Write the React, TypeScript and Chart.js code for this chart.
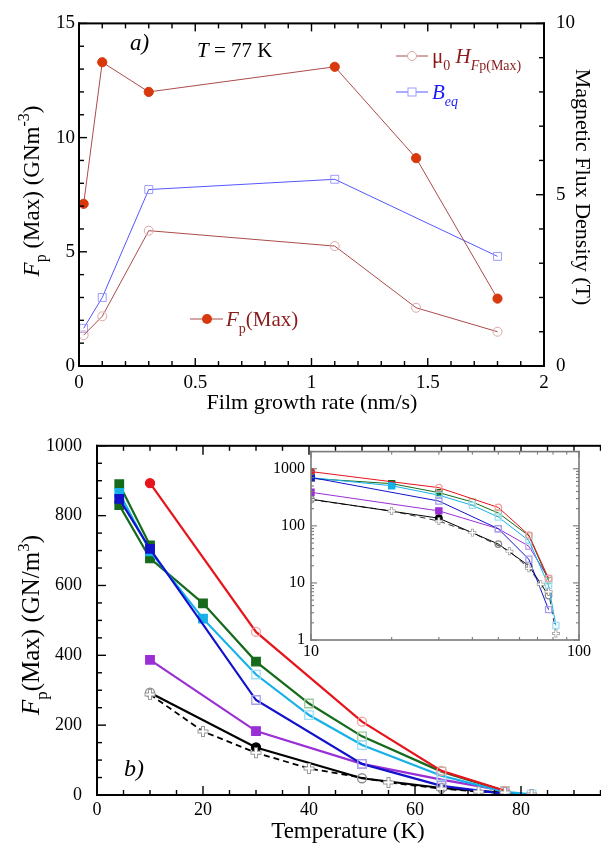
import React, { useEffect, useRef } from 'react';
import { Chart, registerables } from 'chart.js';
import type { Plugin } from 'chart.js';

Chart.register(...registerables);

const SERIF = '"Liberation Serif", "Times New Roman", Times, serif';
Chart.defaults.font.family = SERIF;
Chart.defaults.color = '#000';

// ---- (a) pinning force and fields vs film growth rate, T = 77 K ----
const growthRate = [0.02, 0.1, 0.3, 1.1, 1.45, 1.8];
const fpMax77 = [7.1, 13.3, 12.0, 13.1, 9.1, 2.95];
const mu0HFp = [0.9, 1.45, 3.95, 3.5, 1.7, 1.0];
const growthRateBeq = [0.02, 0.1, 0.3, 1.1, 1.8];
const bEq = [1.1, 2.0, 5.15, 5.45, 3.2];

// ---- (b) Fp(Max) vs temperature ----
const tempRed = [10, 30, 50, 65, 77];
const fpRed = [893, 467, 210, 69, 12];
const tempGreen = [4.2, 10, 20, 30, 40, 50, 65, 77];
const fpGreen = [830, 678, 549, 382, 262, 168, 67, 11];
const tempGreen2 = [4.2, 10];
const fpGreen2 = [890, 715];
const tempCyan = [4.2, 10, 20, 30, 40, 50, 65, 77, 82];
const fpCyan = [865, 698, 505, 345, 229, 143, 55, 9, 1.8];
const tempBlue = [4.2, 10, 30, 50, 65, 77];
const fpBlue = [848, 705, 272, 89, 26, 3.4];
const tempPurple = [10, 30, 50, 65, 77];
const fpPurple = [387, 183, 89, 44, 12];
const tempBlack = [10, 30, 50, 65, 77];
const fpBlack = [293, 136, 48, 20, 6];
const tempDash = [10, 20, 30, 40, 55, 65, 72, 77, 82];
const fpDash = [288, 182, 121, 76, 36, 18, 9.5, 7, 1.3];

// labelled (major) tick values
const rateTicks = [0, 0.5, 1, 1.5, 2];
const fpTicksA = [0, 5, 10, 15];
const fluxTicks = [0, 5, 10];
const tempTicks = [0, 20, 40, 60, 80];
const fpTicksB = [0, 200, 400, 600, 800, 1000];
const insetTempTicks = [10, 100];
const insetFpTicks = [1, 10, 100, 1000];

type Edge = 'left' | 'right' | 'top' | 'bottom';
interface TickSet { id: string; edges: Edge[]; major: number[]; all: number[] }
interface FrameStyle {
  color: string; width: number; tickWidth: number;
  majorLen: number; minorLen: number; sides: Edge[]; fill?: string;
}

const near = (list: number[], v: number) =>
  list.some((m) => Math.abs(m - v) < 1e-6 * Math.max(1, Math.abs(m)));

const fmt = (v: number) => String(Math.round(v * 1000) / 1000);

// evenly spaced tick positions for a linear axis
function linSteps(min: number, max: number, step: number) {
  const out: number[] = [];
  const n = Math.round((max - min) / step);
  for (let i = 0; i <= n; i++) out.push(Math.round((min + i * step) * 1e6) / 1e6);
  return out;
}

// 1..9 x 10^k tick positions for a log axis
function logSteps(min: number, max: number) {
  const out: number[] = [];
  for (let e = Math.floor(Math.log10(min)); e <= Math.ceil(Math.log10(max)); e++) {
    for (let m = 1; m <= 9; m++) {
      const v = m * Math.pow(10, e);
      if (v >= min - 1e-9 && v <= max + 1e-9) out.push(v);
    }
  }
  return out;
}

// pixel of a value on a scale, falling back to the scale's own range
function scalePixel(sc: any, v: number) {
  let p = Number(sc.getPixelForValue(v));
  if (isFinite(p)) return p;
  const isLog = sc.type === 'logarithmic';
  const f = (x: number) => (isLog ? Math.log10(x) : x);
  const t = (f(v) - f(sc.min)) / (f(sc.max) - f(sc.min));
  p = sc.isHorizontal() ? sc.left + t * (sc.right - sc.left) : sc.bottom - t * (sc.bottom - sc.top);
  return p;
}

// frame around the plot area plus inward-pointing major/minor tick marks
function framePlugin(id: string, sets: TickSet[], st: FrameStyle): Plugin {
  return {
    id,
    beforeDatasetsDraw(chart) {
      if (!st.fill) return;
      const a = chart.chartArea;
      const ctx = chart.ctx;
      ctx.save();
      ctx.fillStyle = st.fill;
      ctx.fillRect(a.left, a.top, a.right - a.left, a.bottom - a.top);
      ctx.restore();
    },
    afterDraw(chart) {
      const ctx = chart.ctx;
      const a = chart.chartArea;
      const w = st.tickWidth;
      ctx.save();
      ctx.fillStyle = st.color;
      for (const s of sets) {
        const sc: any = chart.scales[s.id];
        if (!sc) continue;
        for (const value of s.all) {
          const len = near(s.major, value) ? st.majorLen : st.minorLen;
          const p = scalePixel(sc, value);
          if (!isFinite(p)) continue;
          for (const e of s.edges) {
            if (e === 'left') ctx.fillRect(a.left, p - w / 2, len, w);
            else if (e === 'right') ctx.fillRect(a.right - len, p - w / 2, len, w);
            else if (e === 'bottom') ctx.fillRect(p - w / 2, a.bottom - len, w, len);
            else ctx.fillRect(p - w / 2, a.top, w, len);
          }
        }
      }
      const h = st.width / 2;
      if (st.sides.includes('left')) ctx.fillRect(a.left - h, a.top - h, st.width, a.bottom - a.top + st.width);
      if (st.sides.includes('right')) ctx.fillRect(a.right - h, a.top - h, st.width, a.bottom - a.top + st.width);
      if (st.sides.includes('top')) ctx.fillRect(a.left - h, a.top - h, a.right - a.left + st.width, st.width);
      if (st.sides.includes('bottom')) ctx.fillRect(a.left - h, a.bottom - h, a.right - a.left + st.width, st.width);
      ctx.restore();
    },
  };
}

// ---- rich text (italic, sub- and superscripts) ----
interface Seg { t: string; it?: boolean; sub?: boolean; sup?: boolean }

function segFont(s: Seg, size: number) {
  const sz = s.sub || s.sup ? Math.round(size * 0.68) : size;
  return `${s.it ? 'italic ' : ''}${sz}px ${SERIF}`;
}

function richWidth(ctx: CanvasRenderingContext2D, segs: Seg[], size: number) {
  let w = 0;
  for (const s of segs) { ctx.font = segFont(s, size); w += ctx.measureText(s.t).width; }
  return w;
}

function drawRich(ctx: CanvasRenderingContext2D, segs: Seg[], x: number, y: number,
  size: number, color: string, align: 'left' | 'center' = 'left') {
  ctx.save();
  ctx.fillStyle = color;
  ctx.textAlign = 'left';
  ctx.textBaseline = 'alphabetic';
  let cx = align === 'center' ? x - richWidth(ctx, segs, size) / 2 : x;
  for (const s of segs) {
    ctx.font = segFont(s, size);
    const dy = s.sub ? size * 0.32 : s.sup ? -size * 0.42 : 0;
    ctx.fillText(s.t, cx, y + dy);
    cx += ctx.measureText(s.t).width;
  }
  ctx.restore();
}

function drawRichRotated(ctx: CanvasRenderingContext2D, segs: Seg[], cx: number, cy: number,
  size: number, color: string, angle: number) {
  ctx.save();
  ctx.translate(cx, cy);
  ctx.rotate(angle);
  drawRich(ctx, segs, 0, size * 0.33, size, color, 'center');
  ctx.restore();
}

function textPlugin(id: string, draw: (ctx: CanvasRenderingContext2D) => void): Plugin {
  return { id, afterDraw(chart) { draw(chart.ctx); } };
}

const pts = (xs: number[], ys: number[]) => xs.map((x, i) => ({ x, y: ys[i] }));

// ---- panel (a) ----
const A_LINE = '#ac4b4b';
const A_DOT = '#d8390c';
const A_PALE = '#dca6a6';
const A_BLUE = '#5656ff';
const A_BLUE_PALE = '#9c9cff';
const A_TEXT_RED = '#8b1a1a';

function axisOpts(min: number, max: number, step: number, labels: number[], pos: string,
  size: number, pad: number, fit: (s: any) => void) {
  return {
    type: 'linear' as const, min, max, position: pos,
    grid: { display: false, drawTicks: false },
    border: { display: false },
    ticks: {
      stepSize: step, autoSkip: false, maxRotation: 0, padding: pad, color: '#000',
      font: { family: SERIF, size },
      callback: (v: any) => (near(labels, Number(v)) ? fmt(Number(v)) : ''),
    },
    afterFit: fit,
  };
}

function makePanelA(canvas: HTMLCanvasElement) {
  return new Chart(canvas, {
    type: 'scatter',
    data: {
      datasets: [
        {
          label: 'Fp(Max)', data: pts(growthRate, fpMax77), yAxisID: 'y', showLine: true,
          borderColor: A_LINE, borderWidth: 1, pointStyle: 'circle', pointRadius: 4.6,
          pointBackgroundColor: A_DOT, pointBorderColor: A_DOT, pointBorderWidth: 1, order: 0,
        },
        {
          label: 'mu0H', data: pts(growthRate, mu0HFp), yAxisID: 'y1', showLine: true,
          borderColor: A_LINE, borderWidth: 1, pointStyle: 'circle', pointRadius: 4.5,
          pointBackgroundColor: 'rgba(255,255,255,0)', pointBorderColor: A_PALE, pointBorderWidth: 1, order: 1,
        },
        {
          label: 'Beq', data: pts(growthRateBeq, bEq), yAxisID: 'y1', showLine: true,
          borderColor: A_BLUE, borderWidth: 1, pointStyle: 'rect', pointRadius: 5.6,
          pointBackgroundColor: 'rgba(255,255,255,0)', pointBorderColor: A_BLUE_PALE, pointBorderWidth: 1, order: 2,
        },
      ],
    } as any,
    options: {
      animation: false, responsive: false, devicePixelRatio: 1,
      layout: { padding: { top: 17, left: 0, right: 0, bottom: 0 } },
      plugins: { legend: { display: false }, tooltip: { enabled: false } },
      scales: {
        x: axisOpts(0, 2, 0.1, rateTicks, 'bottom', 19, 6, (s) => { s.height = 54; }),
        y: axisOpts(0, 15, 1, fpTicksA, 'left', 19, 4, (s) => { s.width = 79; }),
        y1: axisOpts(0, 10, 1, fluxTicks, 'right', 19, 12, (s) => { s.width = 57; }),
      },
    } as any,
    plugins: [
      framePlugin('frameA', [
        { id: 'x', edges: ['bottom', 'top'], major: rateTicks, all: linSteps(0, 2, 0.1) },
        { id: 'y', edges: ['left'], major: fpTicksA, all: linSteps(0, 15, 1) },
        { id: 'y1', edges: ['right'], major: fluxTicks, all: linSteps(0, 10, 1) },
      ], { color: '#000', width: 2, tickWidth: 1.4, majorLen: 8, minorLen: 5, sides: ['left', 'right', 'top', 'bottom'] }),
      textPlugin('textA', (ctx) => {
        drawRich(ctx, [{ t: 'a)', it: true }], 130, 50, 23, '#000');
        drawRich(ctx, [{ t: 'T', it: true }, { t: ' = 77 K' }], 197, 57, 21, '#000');
        drawRichRotated(ctx, [
          { t: 'F', it: true }, { t: 'p', sub: true }, { t: ' (Max) (GNm' }, { t: '-3', sup: true }, { t: ')' },
        ], 31, 191, 23, '#000', -Math.PI / 2);
        drawRichRotated(ctx, [{ t: 'Magnetic Flux Density (T)' }], 583, 187, 22, '#000', Math.PI / 2);
        drawRich(ctx, [{ t: 'Film growth rate (nm/s)' }], 312, 409, 22, '#000', 'center');

        // legend entries
        ctx.save();
        ctx.lineWidth = 1;
        ctx.strokeStyle = A_LINE;
        ctx.beginPath(); ctx.moveTo(396, 56); ctx.lineTo(428, 56); ctx.stroke();
        ctx.strokeStyle = A_PALE;
        ctx.fillStyle = '#fff';
        ctx.beginPath(); ctx.arc(412, 56, 4.5, 0, Math.PI * 2); ctx.fill(); ctx.stroke();
        ctx.strokeStyle = A_BLUE;
        ctx.beginPath(); ctx.moveTo(396, 92); ctx.lineTo(428, 92); ctx.stroke();
        ctx.strokeStyle = A_BLUE_PALE;
        ctx.fillRect(408, 88, 8, 8); ctx.strokeRect(408, 88, 8, 8);
        ctx.strokeStyle = A_LINE;
        ctx.beginPath(); ctx.moveTo(190, 319); ctx.lineTo(223, 319); ctx.stroke();
        ctx.fillStyle = A_DOT;
        ctx.beginPath(); ctx.arc(207, 319, 5, 0, Math.PI * 2); ctx.fill();
        ctx.restore();
        drawRich(ctx, [
          { t: 'μ' }, { t: '0', sub: true }, { t: ' ' }, { t: 'H', it: true },
          { t: 'F', it: true, sub: true }, { t: 'p(Max)', sub: true },
        ], 432, 63, 21, A_TEXT_RED);
        drawRich(ctx, [{ t: 'B', it: true }, { t: 'eq', it: true, sub: true }], 432, 99, 21, '#1a1aff');
        drawRich(ctx, [{ t: 'F', it: true }, { t: 'p', sub: true }, { t: '(Max)' }], 226, 326, 21, A_TEXT_RED);
      }),
    ],
  });
}

// ---- panel (b) and its log-log inset ----
interface SeriesStyle {
  t: number[]; v: number[]; color: string; pale: string;
  shape: 'circle' | 'rect'; solid: number[]; dash?: boolean; order: number;
}

const bSeries: SeriesStyle[] = [
  { t: tempRed, v: fpRed, color: '#e8141c', pale: '#f3a0a0', shape: 'circle', solid: [0], order: 0 },
  { t: tempBlue, v: fpBlue, color: '#1212cc', pale: '#a7a0e6', shape: 'rect', solid: [0, 1], order: 1 },
  { t: tempCyan, v: fpCyan, color: '#17b1ea', pale: '#9fdff4', shape: 'rect', solid: [0, 1, 2], order: 2 },
  { t: tempGreen, v: fpGreen, color: '#166a1c', pale: '#9ecb9e', shape: 'rect', solid: [0, 1, 2, 3], order: 3 },
  { t: tempGreen2, v: fpGreen2, color: '#166a1c', pale: '#9ecb9e', shape: 'rect', solid: [0, 1], order: 4 },
  { t: tempPurple, v: fpPurple, color: '#9a2fd6', pale: '#c9a2e8', shape: 'rect', solid: [0, 1], order: 5 },
  { t: tempBlack, v: fpBlack, color: '#000000', pale: '#8a8a8a', shape: 'circle', solid: [1], order: 6 },
  { t: tempDash, v: fpDash, color: '#000000', pale: '#8a8a8a', shape: 'circle', solid: [], dash: true, order: 7 },
];

function bDatasets(inset: boolean) {
  const lw = inset ? 1 : 2.2;
  const k = inset ? 0.72 : 1;
  const out: any[] = bSeries.map((s) => ({
    data: pts(s.t, s.v), showLine: true,
    borderColor: s.color, borderWidth: s.dash ? lw * 0.8 : lw, borderDash: s.dash ? [6, 4] : [],
    pointStyle: s.shape, pointRadius: s.dash ? 0 : (s.shape === 'rect' ? 6 : 4.5) * k,
    pointBackgroundColor: s.t.map((_, i) => (s.solid.includes(i) ? s.color : 'rgba(255,255,255,0)')),
    pointBorderColor: s.t.map((_, i) => (s.solid.includes(i) ? s.color : s.pale)),
    pointBorderWidth: 1.3, order: s.order,
  }));
  // plus markers on the dashed curve: grey outline, white core
  out.push({
    data: pts(tempDash, fpDash), showLine: false, pointStyle: 'cross',
    pointRadius: 5.5 * k, pointBorderWidth: 4 * k, pointBorderColor: '#9a9a9a', order: -1,
  });
  out.push({
    data: pts(tempDash, fpDash), showLine: false, pointStyle: 'cross',
    pointRadius: 4.5 * k, pointBorderWidth: 2 * k, pointBorderColor: '#ffffff', order: -2,
  });
  return out;
}

function makePanelB(canvas: HTMLCanvasElement) {
  const top = 420;
  return new Chart(canvas, {
    type: 'scatter',
    data: { datasets: bDatasets(false) },
    options: {
      animation: false, responsive: false, devicePixelRatio: 1,
      layout: { padding: { top: 15, left: 0, right: 8, bottom: 0 } },
      plugins: { legend: { display: false }, tooltip: { enabled: false } },
      scales: {
        x: axisOpts(0, 95, 5, tempTicks, 'bottom', 18, 4, (s) => { s.height = 56; }),
        y: axisOpts(0, 1000, 50, fpTicksB, 'left', 18, 15, (s) => { s.width = 97; }),
      },
    } as any,
    plugins: [
      framePlugin('frameB', [
        { id: 'x', edges: ['bottom', 'top'], major: tempTicks, all: linSteps(0, 95, 5) },
        { id: 'y', edges: ['left'], major: fpTicksB, all: linSteps(0, 1000, 50) },
      ], { color: '#000', width: 2, tickWidth: 1.4, majorLen: 9, minorLen: 5, sides: ['left', 'top', 'bottom'] }),
      textPlugin('textB', (ctx) => {
        drawRich(ctx, [{ t: 'b)', it: true }], 124, 776 - top, 24, '#000');
        drawRichRotated(ctx, [
          { t: 'F', it: true }, { t: 'p', sub: true }, { t: '(Max) (GN/m' }, { t: '3', sup: true }, { t: ')' },
        ], 31, 625 - top, 25, '#000', -Math.PI / 2);
        drawRich(ctx, [{ t: 'Temperature (K)' }], 348, 838 - top, 23, '#000', 'center');
      }),
    ],
  });
}

function logAxis(min: number, max: number, labels: number[], pos: string, pad: number, fit: (s: any) => void) {
  return {
    type: 'logarithmic' as const, min, max, position: pos,
    grid: { display: false, drawTicks: false },
    border: { display: false },
    ticks: {
      autoSkip: false, maxRotation: 0, padding: pad, color: '#000',
      font: { family: SERIF, size: 16 },
      callback: (v: any) => (near(labels, Number(v)) ? String(Number(v)) : ''),
    },
    afterFit: fit,
  };
}

function makeInset(canvas: HTMLCanvasElement) {
  return new Chart(canvas, {
    type: 'scatter',
    data: { datasets: bDatasets(true) },
    options: {
      animation: false, responsive: false, devicePixelRatio: 1,
      layout: { padding: { top: 11.5, left: 0, right: 17, bottom: 0 } },
      plugins: { legend: { display: false }, tooltip: { enabled: false } },
      scales: {
        x: logAxis(10, 100, insetTempTicks, 'bottom', 2, (s) => { s.height = 26; }),
        y: logAxis(1, 2000, insetFpTicks, 'left', 6, (s) => { s.width = 45; }),
      },
    } as any,
    plugins: [
      framePlugin('frameInset', [
        { id: 'x', edges: ['bottom', 'top'], major: insetTempTicks, all: logSteps(10, 100) },
        { id: 'y', edges: ['left', 'right'], major: insetFpTicks, all: logSteps(1, 2000) },
      ], {
        color: '#7a7a7a', width: 1.6, tickWidth: 1.1, majorLen: 6, minorLen: 3,
        sides: ['left', 'right', 'top', 'bottom'], fill: '#ffffff',
      }),
    ],
  });
}

function ChartCanvas(props: {
  left: number; top: number; width: number; height: number;
  make: (c: HTMLCanvasElement) => Chart;
}) {
  const ref = useRef<HTMLCanvasElement>(null);
  const { left, top, width, height, make } = props;
  useEffect(() => {
    const chart = make(ref.current as HTMLCanvasElement);
    return () => chart.destroy();
  }, [make]);
  return (
    <canvas
      ref={ref}
      width={width}
      height={height}
      style={{ position: 'absolute', left, top, width, height }}
    />
  );
}

export default function App() {
  return (
    <div
      style={{
        position: 'absolute', left: 0, top: 0, width: 601, height: 851,
        overflow: 'hidden', background: '#ffffff',
      }}
    >
      <ChartCanvas left={0} top={0} width={601} height={420} make={makePanelA} />
      <ChartCanvas left={0} top={420} width={610} height={431} make={makePanelB} />
      <ChartCanvas left={266} top={436} width={330} height={230} make={makeInset} />
    </div>
  );
}
